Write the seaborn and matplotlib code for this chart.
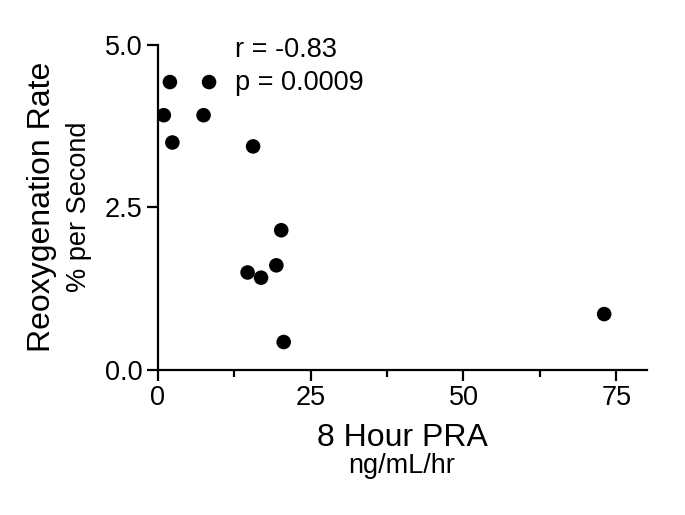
import matplotlib
matplotlib.use("Agg")
import matplotlib.pyplot as plt
from matplotlib.ticker import MultipleLocator, FormatStrFormatter
import seaborn as sns
import pandas as pd

# === data ===
pra = [2.0, 8.4, 1.0, 7.5, 2.4, 15.6, 20.2, 14.7, 16.9, 19.4, 20.6, 73.0]
reoxy = [4.43, 4.43, 3.92, 3.92, 3.50, 3.44, 2.15, 1.50, 1.42, 1.61, 0.43, 0.86]
stats_lines = ["r = -0.83", "p = 0.0009"]

df = pd.DataFrame({"PRA": pra, "Reoxygenation": reoxy})

sns.set_style("ticks")
plt.rcParams["font.family"] = ["Liberation Sans", "DejaVu Sans"]
plt.rcParams["text.color"] = "black"

fig = plt.figure(figsize=(6.85, 5.15), dpi=100)
ax = fig.add_axes([0.2302, 0.2816, 0.7143, 0.6310])

sns.scatterplot(data=df, x="PRA", y="Reoxygenation", color="black",
                s=110, edgecolor="none", ax=ax, legend=False)

ax.set_xlim(0, 80)
ax.set_ylim(0, 5)
ax.xaxis.set_major_locator(MultipleLocator(25))
ax.xaxis.set_minor_locator(MultipleLocator(12.5))
ax.yaxis.set_major_locator(MultipleLocator(2.5))
ax.yaxis.set_major_formatter(FormatStrFormatter("%.1f"))

sns.despine(ax=ax)
for sp in ["left", "bottom"]:
    ax.spines[sp].set_linewidth(1.6)
    ax.spines[sp].set_color("black")
ax.tick_params(which="major", length=8, width=1.6, labelsize=19.5,
               colors="black", labelcolor="black", pad=3)
ax.tick_params(which="minor", axis="x", length=5, width=1.6, colors="black")
ax.set_xlabel("")
ax.set_ylabel("")

# axis titles with smaller unit lines
fig.text(402 / 685, 1 - 438 / 515, "8 Hour PRA", ha="center", va="center", fontsize=23)
fig.text(402 / 685, 1 - 466 / 515, "ng/mL/hr", ha="center", va="center", fontsize=19.5)
fig.text(42 / 685, 1 - 207 / 515, "Reoxygenation Rate", ha="center", va="center",
         rotation=90, fontsize=23)
fig.text(79 / 685, 1 - 207 / 515, "% per Second", ha="center", va="center",
         rotation=90, fontsize=19.5)

# correlation stats
ax.text(12.7, 4.93, stats_lines[0], ha="left", va="center", fontsize=19.5)
ax.text(12.7, 4.42, stats_lines[1], ha="left", va="center", fontsize=19.5)

fig.savefig("out.png", dpi=100)
